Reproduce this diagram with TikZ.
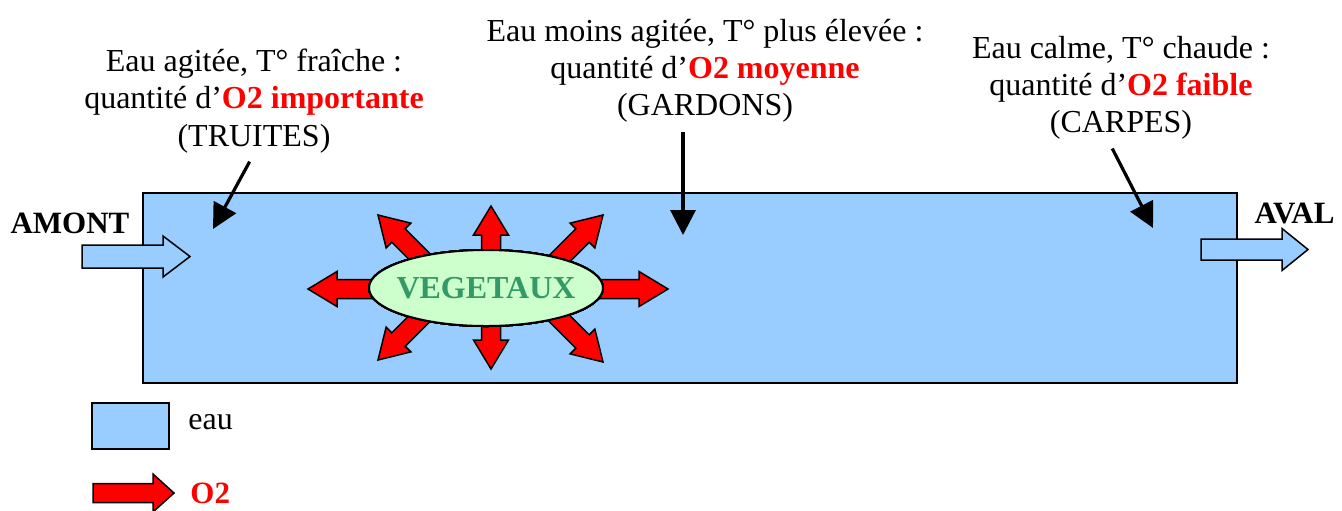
\documentclass[tikz,border=0pt]{standalone}
\usepackage{fontspec}
\setmainfont{Liberation Serif}
\usetikzlibrary{shapes.geometric}
\usetikzlibrary{arrows.meta}

\definecolor{waterblue}{HTML}{99CCFF}
\definecolor{vegfill}{HTML}{CCFFCC}
\definecolor{veggreen}{HTML}{339966}

% #1 style, #2 tip, #3 angle, #4 length, #5 half shaft, #6 head length, #7 half head
\newcommand\fatarrow[7]{%
	\draw [#1, shift={#2}, rotate=#3] (0,0) -- (-#6,#7) -- (-#6,#5) -- (-#4,#5) -- (-#4,-#5) -- (-#6,-#5) -- (-#6,-#7) -- cycle;}

\tikzset{
	water/.style={draw=black, line width=1pt, fill=waterblue},
	oxy/.style={draw=black, line width=0.75pt, fill=red, line join=miter},
	flow/.style={draw=black, line width=0.75pt, fill=waterblue, line join=miter},
	txt/.style={align=center, inner sep=2pt, font=\fontsize{16}{18.6}\selectfont},
	bigtxt/.style={inner sep=0pt, font=\fontsize{15.5}{18.5}\selectfont\bfseries},
	pointer/.style={line width=1.6pt, -{Triangle[length=12.5pt,width=12.5pt]}, shorten <=2.5pt}
}

\begin{document}
\begin{tikzpicture}[x=0.5pt, y=-0.5pt]
				\useasboundingbox (0,0) rectangle (1342,510);
				%
				\draw [water] (143,193) rectangle (1237,383);
				%
				\fatarrow{flow}{(190,256.5)}{0}{108}{11.5}{27}{20.5}
				\fatarrow{flow}{(1308,249.5)}{0}{107}{10.5}{26}{21}
				\node [bigtxt, anchor=base] (amont) at (70,233) {AMONT};
				\node [bigtxt, anchor=base] (aval) at (1294.5,223) {AVAL};
				%
				\foreach \tx/\ty/\ang/\len in {491/206/90/60, 491/369/270/60, 308/289/180/80, 668/289/0/80,
					378/215/135/80, 603/215/45/80, 378/360/225/80, 603/362/315/80}
					\fatarrow{oxy}{(\tx,\ty)}{\ang}{\len}{9.5}{29}{17.5}
				%
				\node [ellipse, draw, line width=1pt, fill=vegfill, minimum width=117pt, minimum height=38pt,
					inner xsep=-12pt, inner ysep=0pt,
					text=veggreen, font=\fontsize{16}{18.6}\selectfont\bfseries] (veg) at (486,288) {VEGETAUX};
				%
				\node [txt] (lefttxt) at (254,101) {Eau agitée, T° fraîche :\\quantité d’\textcolor{red}{\textbf{O2 importante}}\\(TRUITES)};
				\node [txt] (midtxt) at (705,71) {Eau moins agitée, T° plus élevée :\\quantité d’\textcolor{red}{\textbf{O2 moyenne}}\\(GARDONS)};
				\node [txt] (righttxt) at (1121,88) {Eau calme, T° chaude :\\quantité d’\textcolor{red}{\textbf{O2 faible}}\\(CARPES)};
				%
				\coordinate (leftpt) at (213,229);
				\coordinate (midpt) at (683,235);
				\coordinate (rightpt) at (1153,228);
				\draw [pointer] ([xshift=-1pt]lefttxt.south) -- (leftpt);
				\draw [pointer] (midtxt.south -| midpt) -- (midpt);
				\draw [pointer] ([xshift=-5.5pt]righttxt.south) -- (rightpt);
				%
				% legende
				\draw [water] (92,403) rectangle (169,449);
				\node [txt, anchor=base west, inner sep=0pt] (eau) at (188,429) {eau};
				\fatarrow{oxy}{(174,493)}{0}{81}{9.5}{21}{19}
				\node [bigtxt, anchor=base west, text=red] (o2) at (190,503) {O2};
			\end{tikzpicture}
\end{document}
